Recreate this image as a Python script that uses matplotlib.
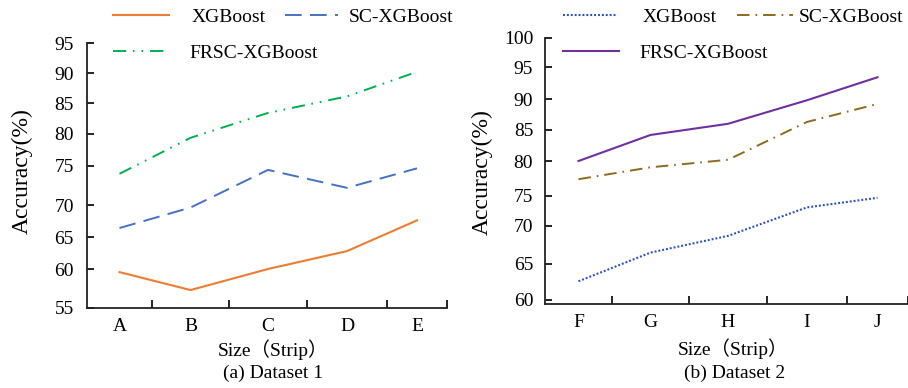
import numpy as np
import matplotlib
matplotlib.use("Agg")
import matplotlib.pyplot as plt
from matplotlib.lines import Line2D

plt.rcParams['font.family'] = ['Liberation Serif', 'Noto Sans CJK SC', 'DejaVu Sans']
plt.rcParams['lines.scale_dashes'] = False

# ---------------- data ----------------
cats1 = ['A', 'B', 'C', 'D', 'E']
cats2 = ['F', 'G', 'H', 'I', 'J']
series_names = ['XGBoost', 'SC-XGBoost', 'FRSC-XGBoost']

d1_xgb = [59.6, 57.3, 60.0, 62.8, 67.6]
d1_sc = [66.4, 69.6, 74.5, 72.2, 74.7]
d1_frsc = [74.0, 79.4, 83.4, 86.1, 90.2]

d2_xgb = [62.6, 66.5, 68.7, 73.1, 74.7]
d2_sc = [77.4, 79.1, 80.2, 86.3, 89.2]
d2_frsc = [80.0, 84.2, 86.0, 89.8, 93.4]

yticks1 = [55, 60, 65, 70, 75, 80, 85, 90, 95]
yticks2 = [60, 65, 70, 75, 80, 85, 90, 95, 100]

W, H = 908, 388

# axis layout anchors (pixel positions of tick values, as drawn in the reference)
ypix1 = [308, 269, 237, 205, 166, 134, 103, 73, 43]
ypix2 = [304, 300, 264, 226, 196, 161, 130, 99, 67, 38]
yval2_anchor = [59.44] + yticks2
xb1 = [87, 152, 229, 307, 387, 447]
xb2 = [545, 612, 689, 767, 847, 908]
xbounds = [-0.5, 0.5, 1.5, 2.5, 3.5, 4.5]


def piecewise(xp, fp):
    xp = np.asarray(xp, float)
    fp = np.asarray(fp, float)

    def f(v):
        v = np.asarray(v, float)
        out = np.interp(v, xp, fp)
        lo_s = (fp[1] - fp[0]) / (xp[1] - xp[0])
        hi_s = (fp[-1] - fp[-2]) / (xp[-1] - xp[-2])
        out = np.where(v < xp[0], fp[0] + (v - xp[0]) * lo_s, out)
        out = np.where(v > xp[-1], fp[-1] + (v - xp[-1]) * hi_s, out)
        return out
    return f


def make_scale(vals, pix):
    return piecewise(vals, pix), piecewise(pix, vals)


fig = plt.figure(figsize=(W / 100, H / 100), dpi=100)


def setup_axes(rect_px, xb, yvals, ypix, ylim, cats, yticks, ypad):
    x0, x1, ytop, ybot = rect_px
    ax = fig.add_axes([x0 / W, (H - ybot) / H, (x1 - x0) / W, (ybot - ytop) / H])
    ax.set_xscale('function', functions=make_scale(xbounds, xb))
    ax.set_yscale('function', functions=make_scale(yvals, [H - p for p in ypix]))
    ax.set_xlim(-0.5, 4.5)
    ax.set_ylim(*ylim)
    ax.set_xticks(xbounds[1:])
    ax.set_xticklabels([])
    ax.set_xticks(range(len(cats)), minor=True)
    ax.set_xticklabels(cats, minor=True, fontsize=14)
    ax.tick_params(axis='x', which='major', direction='in', length=6, width=1.2)
    ax.tick_params(axis='x', which='minor', length=0, pad=7)
    ax.set_yticks(yticks)
    ax.set_yticklabels([str(t) for t in yticks], fontsize=14)
    ax.yaxis.set_minor_locator(matplotlib.ticker.NullLocator())
    ax.tick_params(axis='y', direction='in', length=5, width=1.2, pad=ypad)
    for s in ['top', 'right']:
        ax.spines[s].set_visible(False)
    for s in ['left', 'bottom']:
        ax.spines[s].set_linewidth(1.3)
        ax.spines[s].set_color('#222222')
    ax.patch.set_alpha(0)
    return ax


ax1 = setup_axes((87, 447, 43, 308), xb1, yticks1, ypix1, (55, 95), cats1, yticks1, 9.5)
ax2 = setup_axes((545, 908, 38, 304), xb2, yval2_anchor, ypix2, (59.44, 100), cats2, yticks2, 8.5)

x = np.arange(len(cats1))
s_orange = dict(color='#ED7D31', lw=1.5, ls='-')
s_blue = dict(color='#4472C4', lw=1.4, ls=(0, (12, 6)))
s_green = dict(color='#00B050', lw=1.4, ls=(0, (9.5, 4.8, 1.2, 5, 1.2, 5)))
ax1.plot(x, d1_xgb, **s_orange)
ax1.plot(x, d1_sc, **s_blue)
ax1.plot(x, d1_frsc, **s_green)

s_dot = dict(color='#2E50C0', lw=1.5, ls=(0, (1.4, 1.4)))
s_brown = dict(color='#8C6A1E', lw=1.4, ls=(0, (9, 4.3, 1.2, 4.3)))
s_purple = dict(color='#7030A0', lw=1.5, ls='-')
ax2.plot(x, d2_xgb, **s_dot)
ax2.plot(x, d2_sc, **s_brown)
ax2.plot(x, d2_frsc, **s_purple)


def add_entry(style, name, x_px, y_px, hlen, tpad):
    leg = fig.legend([Line2D([], [], **style)], [name], loc='center left',
                     bbox_to_anchor=(x_px / W, 1 - y_px / H),
                     frameon=False, fontsize=14, handlelength=hlen,
                     handletextpad=tpad, borderpad=0, borderaxespad=0)
    return leg


# left legend entries
add_entry(s_orange, series_names[0], 113, 17, 2.9, 1.13)
add_entry(s_blue, series_names[1], 285, 17, 2.7, 0.57)
add_entry(s_green, series_names[2], 113, 53, 2.9, 1.03)
# right legend entries
add_entry(s_dot, series_names[0], 563, 17, 2.8, 1.3)
add_entry(s_brown, series_names[1], 737, 17, 2.9, 0.26)
add_entry(s_purple, series_names[2], 563, 53, 2.9, 1.03)

# axis labels
fig.text(22 / W, 1 - 171 / H, 'Accuracy(%)', rotation=90, ha='center', va='center', fontsize=17)
fig.text(482 / W, 1 - 172 / H, 'Accuracy(%)', rotation=90, ha='center', va='center', fontsize=17)
fig.text(273 / W, 1 - 350 / H, 'Size（Strip）', ha='center', va='center', fontsize=14)
fig.text(733 / W, 1 - 349 / H, 'Size（Strip）', ha='center', va='center', fontsize=14)
fig.text(273 / W, 1 - 373 / H, '(a) Dataset 1', ha='center', va='center', fontsize=14)
fig.text(735 / W, 1 - 373 / H, '(b) Dataset 2', ha='center', va='center', fontsize=14)

fig.savefig('out.png', dpi=100)
